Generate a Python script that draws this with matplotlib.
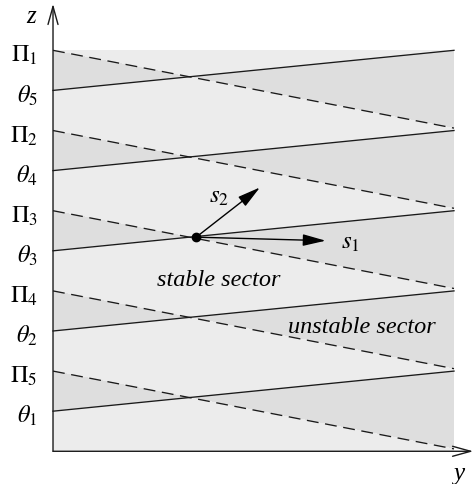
import numpy as np
import matplotlib
matplotlib.use("Agg")
import matplotlib.pyplot as plt

plt.rcParams['mathtext.fontset'] = 'stix'

# lines: z value at left (y=0) and right (y=1) edge
theta_names = [r'$\theta_1$', r'$\theta_2$', r'$\theta_3$', r'$\theta_4$', r'$\theta_5$']
theta_left = [0.5, 1.5, 2.5, 3.5, 4.5]
theta_right = [1.0, 2.0, 3.0, 4.0, 5.0]

pi_names = [r'$\Pi_1$', r'$\Pi_2$', r'$\Pi_3$', r'$\Pi_4$', r'$\Pi_5$']
pi_left = [5.0, 4.0, 3.0, 2.0, 1.0]
pi_right = [4.03, 3.03, 2.03, 1.03, 0.03]

z_top = 5.0
point = (0.357, 2.67)
s1_tip = (0.680, 2.626)
s2_tip = (0.516, 3.29)

dark = '#dedede'
light = '#ececec'

fig = plt.figure(figsize=(4.76, 4.85), dpi=100)
ax = fig.add_axes([0, 0, 1, 1])
ax.set_xlim(-0.1322, 1.0549)
ax.set_ylim(-0.408, 5.640)
ax.axis('off')

# checkerboard shading: parity of the number of lines above a point
nx, nz = 1600, 1600
gx = np.linspace(0, 1, nx)
gz = np.linspace(0, z_top, nz)
X, Z = np.meshgrid(gx, gz)
count = np.zeros_like(X, dtype=int)
for l, r in list(zip(theta_left, theta_right)) + list(zip(pi_left, pi_right)):
    count += (l + (r - l) * X > Z)
img = np.where(count % 2 == 1, 0, 1)
cmap = matplotlib.colors.ListedColormap([dark, light])
ax.imshow(img, origin='lower', extent=(0, 1, 0, z_top), cmap=cmap,
          interpolation='nearest', aspect='auto', zorder=0)

for l, r in zip(theta_left, theta_right):
    ax.plot([0, 1], [l, r], color='#1a1a1a', lw=0.95, zorder=2)
for l, r in zip(pi_left, pi_right):
    ax.plot([0, 1], [l, r], color='#1a1a1a', lw=0.95, ls=(0, (9, 5)), zorder=2)

# axes with arrows
ax.annotate('', xy=(0, 5.58), xytext=(0, 0),
            arrowprops=dict(arrowstyle='->,head_length=0.65,head_width=0.18',
                            lw=1.0, color='#1a1a1a', mutation_scale=20,
                            shrinkA=0, shrinkB=0), zorder=3)
ax.annotate('', xy=(1.048, 0), xytext=(0, 0),
            arrowprops=dict(arrowstyle='->,head_length=0.65,head_width=0.18',
                            lw=1.0, color='#1a1a1a', mutation_scale=20,
                            shrinkA=0, shrinkB=0), zorder=3)
ax.text(-0.055, 5.43, 'z', fontfamily='Liberation Serif', style='italic',
        fontsize=18, ha='center', va='center')
ax.text(1.011, -0.27, 'y', fontfamily='Liberation Serif', style='italic',
        fontsize=18, ha='center', va='center')

# tick labels
for name, z in zip(theta_names + pi_names, theta_left + pi_left):
    ax.text(-0.038, z - 0.05, name, fontsize=17.5, ha='right', va='center')

# point with directions
ax.plot(*point, 'o', color='black', ms=6, zorder=4)
for tip in (s1_tip, s2_tip):
    ax.annotate('', xy=tip, xytext=point,
                arrowprops=dict(arrowstyle='-|>,head_length=0.7,head_width=0.18',
                                lw=1.0, color='black', mutation_scale=20,
                                shrinkA=0, shrinkB=0), zorder=4)
ax.text(0.741, 2.62, r'$s_1$', fontsize=18, ha='center', va='center')
ax.text(0.414, 3.20, r'$s_2$', fontsize=18, ha='center', va='center')

ax.text(0.413, 2.14, 'stable sector', fontfamily='Liberation Serif', style='italic',
        fontsize=17.5, ha='center', va='center')
ax.text(0.771, 1.56, 'unstable sector', fontfamily='Liberation Serif', style='italic',
        fontsize=17.5, ha='center', va='center')

fig.savefig('out.png', dpi=100)
